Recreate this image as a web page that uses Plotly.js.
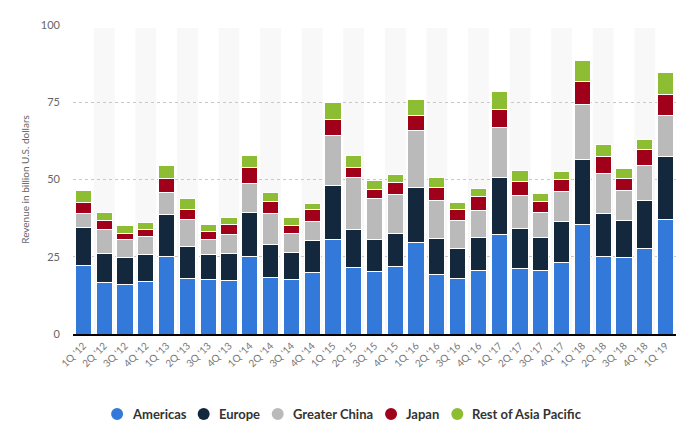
<!DOCTYPE html>
<html>
<head>
<meta charset="utf-8">
<script src="https://cdn.plot.ly/plotly-3.0.1.min.js"></script>
<style>html,body{margin:0;padding:0;background:#fff;}#chart{width:691px;height:433px;}</style>
</head>
<body>
<div id="chart"></div>
<script>
const quarters = ["1Q '12","2Q '12","3Q '12","4Q '12","1Q '13","2Q '13","3Q '13","4Q '13","1Q '14","2Q '14","3Q '14","4Q '14","1Q '15","2Q '15","3Q '15","4Q '15","1Q '16","2Q '16","3Q '16","4Q '16","1Q '17","2Q '17","3Q '17","4Q '17","1Q '18","2Q '18","3Q '18","4Q '18","1Q '19"];
const americas = [22.2,16.7,16.1,16.9,25.1,18.0,17.7,17.2,25.1,18.3,17.6,19.8,30.5,21.5,20.2,21.8,29.6,19.2,18.0,20.5,32.1,21.1,20.5,23.1,35.4,25.0,24.7,27.6,37.0];
const europe = [12.2,9.3,8.6,8.9,13.5,10.4,8.1,8.9,14.3,10.7,8.7,10.4,17.5,12.3,10.3,10.7,17.8,11.6,9.6,10.7,18.5,13.0,10.7,13.2,21.0,13.9,12.0,15.5,20.4];
const greaterChina = [4.5,7.8,5.9,5.8,7.3,8.7,4.9,6.2,9.4,10.1,6.2,6.1,16.2,16.8,13.3,12.6,18.4,12.3,9.1,8.7,16.2,10.7,8.1,9.8,17.8,13.0,9.7,11.4,13.2];
const japan = [3.7,3.0,1.9,2.3,4.5,3.3,2.5,3.2,5.1,3.8,2.6,3.9,5.2,3.2,3.0,3.9,4.9,4.3,3.5,4.5,5.8,4.5,3.5,3.8,7.5,5.5,3.9,5.1,6.8];
const restOfAsiaPacific = [3.8,2.6,2.5,2.1,4.1,3.4,2.3,2.1,3.9,3.0,2.6,1.9,5.4,4.1,2.8,2.5,5.1,3.2,2.3,2.6,5.8,3.5,2.6,2.6,6.7,3.8,3.2,3.3,7.1];
const seriesNames = ["Americas","Europe","Greater China","Japan","Rest of Asia Pacific"];
const seriesColors = ["#3379d9","#13283d","#bababa","#a1001a","#8dbd33"];
const yTicks = [0,25,50,75,100];

const W = 691, H = 433;
const M = {l: 73, r: 15, t: 25, b: 99};
const plotW = W - M.l - M.r, plotH = H - M.t - M.b;

const allSeries = [americas, europe, greaterChina, japan, restOfAsiaPacific];
const traces = allSeries.map((vals, k) => ({
  type: 'bar', x: quarters, y: vals, name: seriesNames[k],
  marker: {color: seriesColors[k], line: {color: '#ffffff', width: 1}},
  showlegend: false, hoverinfo: 'y+name'
}));

const shapes = [];
quarters.forEach((q, i) => {
  if (i % 2 === 1) {
    shapes.push({type: 'rect', xref: 'x', yref: 'paper', x0: i - 0.5, x1: i + 0.5, y0: 0, y1: 0.99,
      fillcolor: '#f8f8f8', line: {width: 0}, layer: 'below'});
  }
});

// custom legend with circle markers
const legendFont = 'bold 13px Lato';
const ctx = document.createElement('canvas').getContext('2d');
ctx.font = legendFont;
const textW = seriesNames.map(n => ctx.measureText(n).width);
const r = 6, symToText = 13, textToNext = 20;
let total = r;
textW.forEach((w, k) => { total += symToText + w + (k < textW.length - 1 ? textToNext : 0); });
let cursor = W / 2 - total / 2 + r; // first circle centre in px
const legendYpx = 414;
const legendYpaper = (H - M.b - legendYpx) / plotH;
const annotations = [];
seriesNames.forEach((n, k) => {
  const cxPaper = (cursor - M.l) / plotW;
  shapes.push({type: 'circle', xref: 'paper', yref: 'paper', xsizemode: 'pixel', ysizemode: 'pixel',
    xanchor: cxPaper, yanchor: legendYpaper, x0: -r, x1: r, y0: -r, y1: r,
    fillcolor: seriesColors[k], line: {width: 0}});
  annotations.push({xref: 'paper', yref: 'paper', x: (cursor + symToText - M.l) / plotW, y: legendYpaper,
    xanchor: 'left', yanchor: 'middle', showarrow: false, text: n,
    font: {family: 'Lato, sans-serif', size: 13, color: '#333333', weight: 'bold'}});
  cursor += symToText + textW[k] + textToNext;
});

const layout = {
  width: W, height: H,
  margin: {l: M.l, r: M.r, t: M.t, b: M.b, autoexpand: false},
  paper_bgcolor: '#ffffff', plot_bgcolor: 'rgba(0,0,0,0)',
  barmode: 'stack', bargap: 0.22,
  font: {family: 'Lato, "Open Sans", sans-serif', color: '#666666'},
  showlegend: false,
  xaxis: {type: 'category', tickangle: -45, tickfont: {size: 10, color: '#777777'},
    showgrid: false, zeroline: false, showline: true, linecolor: '#000000', linewidth: 2,
    ticks: '', fixedrange: true, automargin: false},
  yaxis: {range: [0, 100], tickvals: yTicks, ticktext: yTicks.map(String),
    tickfont: {size: 11, color: '#666666'},
    showgrid: true, gridcolor: '#c8c8c8', griddash: 'dot', gridwidth: 1,
    zeroline: false, showline: false, ticks: '', ticklabelstandoff: 12,
    title: {text: 'Revenue in billion U.S. dollars', font: {size: 10, color: '#666666'}, standoff: 9},
    fixedrange: true, automargin: false},
  shapes: shapes,
  annotations: annotations
};

Plotly.newPlot('chart', traces, layout, {displayModeBar: false});
</script>
</body>
</html>
